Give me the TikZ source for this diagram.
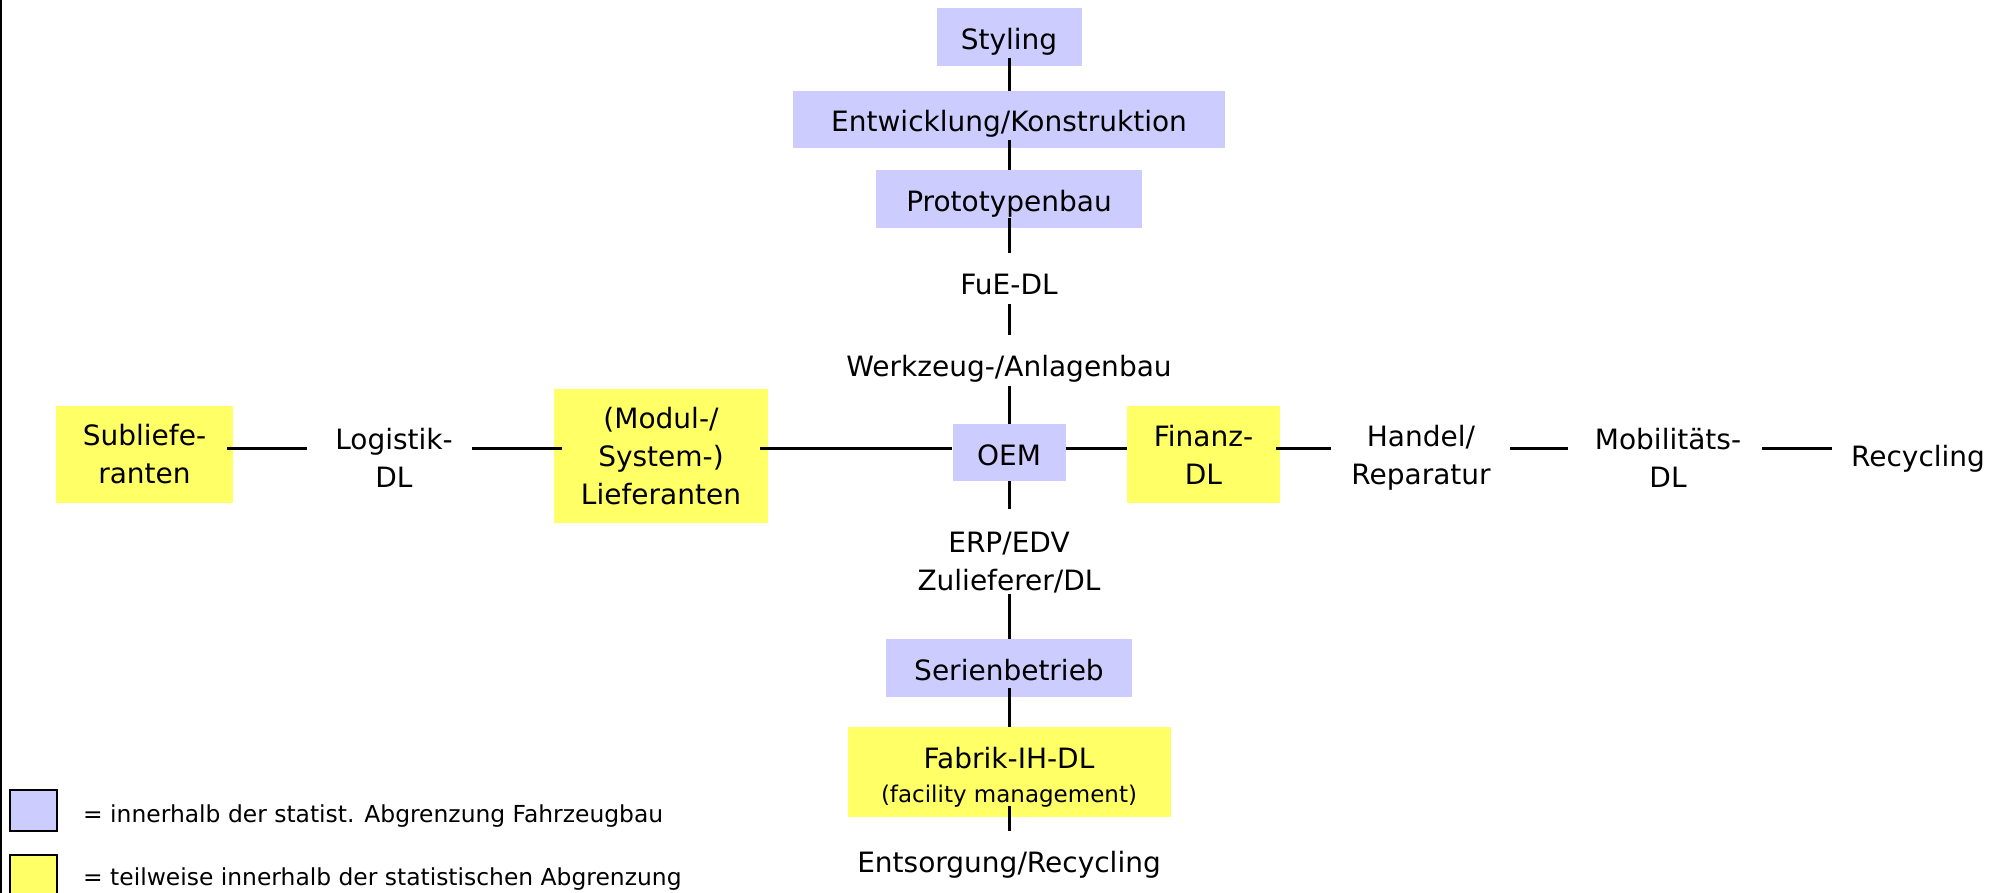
\documentclass[tikz,border=0pt]{standalone}
\usepackage{fontspec}
\setmainfont{DejaVu Sans}
\definecolor{inside}{RGB}{204,204,255}
\definecolor{partly}{RGB}{255,255,102}
\begin{document}
\begin{tikzpicture}[x=1pt,y=-1pt,
  every node/.style={inner sep=0pt, align=center, font=\fontsize{28}{38}\selectfont},
  oneline/.style={text height=25pt, text depth=0pt},
  inbox/.style={oneline, fill=inside},
  partbox/.style={fill=partly},
  keybox/.style={draw=black, line width=2pt, minimum width=47, minimum height=41},
  keytext/.style={anchor=west, font=\fontsize{23.4}{28}\selectfont},
  conn/.style={line width=3pt}]
\useasboundingbox (0,0) rectangle (2004,893);
\draw[line width=2pt] (1,0) -- (1,893);

% vertical chain
\node[inbox, minimum width=145, minimum height=58] (sty) at (1009,37.5) {Styling};
\node[inbox, minimum width=432, minimum height=57] (ent) at (1009,119.5) {Entwicklung/Konstruktion};
\node[inbox, minimum width=266, minimum height=58] (pro) at (1009,199) {Prototypenbau};
\node[oneline] (fue) at (1009,281.7) {FuE-DL};
\node[oneline] (wzb) at (1009,364) {Werkzeug-/Anlagenbau};
\node[inbox, minimum width=113, minimum height=57] (oem) at (1009,452.5) {OEM};
\node (erp) at (1009,562.5) {ERP/EDV\\Zulieferer/DL};
\node[inbox, minimum width=246, minimum height=58] (ser) at (1009,668) {Serienbetrieb};
\node[partbox, minimum width=323, minimum height=90] (fab) at (1009,772) {};
\node[font=\fontsize{28}{34}\selectfont] (fabtxt) at (1009,777)
  {Fabrik-IH-DL\\{\fontsize{23}{34}\selectfont (facility management)}};
\node[oneline] (esr) at (1009,860) {Entsorgung/Recycling};

\draw[conn] ([yshift=9]sty.south) -- (ent.north);
\draw[conn] ([yshift=8]ent.south) -- (pro.north);
\draw[conn] ([yshift=10]pro.south) -- ([yshift=28.5]fue.center);
\draw[conn] ([yshift=-22]fue.center) -- ([yshift=29]wzb.center);
\draw[conn] ([yshift=-22]wzb.center) -- (oem.north);
\draw[conn] (oem.south) -- ([yshift=53.5]erp.center);
\draw[conn] ([yshift=-31.5]erp.center) -- (ser.north);
\draw[conn] ([yshift=9]ser.south) -- (fab.north);
\draw[conn] ([yshift=11]fab.south) -- ([yshift=29]esr.center);

% horizontal chain
\coordinate (axis) at (0,448);
\node[partbox, minimum width=177, minimum height=97] (sub) at (144.5,454.5) {Subliefe-\\ranten};
\node (log) at (394,458) {Logistik-\\DL};
\node[partbox, minimum width=214, minimum height=134] (mod) at (661,456) {(Modul-/\\System-)\\Lieferanten};
\node[partbox, minimum width=153, minimum height=97] (fin) at (1203.5,454.5) {Finanz-\\DL};
\node (han) at (1421,458) {Handel/\\Reparatur};
\node (mob) at (1668,458) {Mobilitäts-\\DL};
\node[oneline] (rec) at (1918,454) {Recycling};

\draw[conn] ([xshift=-6]sub.east |- axis) -- ([xshift=-87]log.center |- axis);
\draw[conn] ([xshift=78]log.center |- axis) -- ([xshift=8]mod.west |- axis);
\draw[conn] ([xshift=-8]mod.east |- axis) -- (oem.west |- axis);
\draw[conn] (oem.east |- axis) -- (fin.west |- axis);
\draw[conn] ([xshift=-4]fin.east |- axis) -- ([xshift=-90]han.center |- axis);
\draw[conn] ([xshift=89]han.center |- axis) -- ([xshift=-100]mob.center |- axis);
\draw[conn] ([xshift=94]mob.center |- axis) -- ([xshift=-86]rec.center |- axis);

% legend
\node[keybox, fill=inside] (k1) at (33.5,810.5) {};
\node[keybox, fill=partly] (k2) at (33.5,875.5) {};
\node[keytext] (t1) at (83,816) {= innerhalb der statist. Abgrenzung Fahrzeugbau};
\node[keytext] (t2) at (83,879) {= teilweise innerhalb der statistischen Abgrenzung};
\end{tikzpicture}
\end{document}
